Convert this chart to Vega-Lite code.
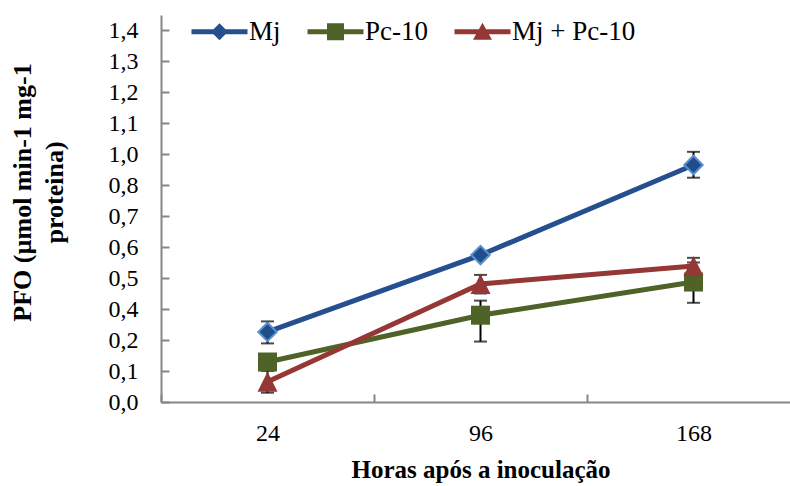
{
  "$schema": "https://vega.github.io/schema/vega-lite/v6.json",
  "width": 629,
  "height": 387,
  "autosize": {"type": "none"},
  "padding": {"left": 161, "top": 15, "right": 0, "bottom": 84},
  "background": "white",
  "config": {"view": {"stroke": null}, "font": "'Liberation Serif', 'DejaVu Serif', serif"},
  "data": {
    "values": [
      {"series": "Mj", "hour": "24", "v": 0.252, "lo": 0.189, "hi": 0.32},
      {"series": "Mj", "hour": "96", "v": 0.574, "lo": 0.565, "hi": 0.585},
      {"series": "Mj", "hour": "168", "v": 0.929, "lo": 0.847, "hi": 1.007},
      {"series": "Pc-10", "hour": "24", "v": 0.129, "lo": 0.115, "hi": 0.145},
      {"series": "Pc-10", "hour": "96", "v": 0.36, "lo": 0.195, "hi": 0.427},
      {"series": "Pc-10", "hour": "168", "v": 0.487, "lo": 0.42, "hi": 0.55},
      {"series": "Mj + Pc-10", "hour": "24", "v": 0.065, "lo": 0.03, "hi": 0.1},
      {"series": "Mj + Pc-10", "hour": "96", "v": 0.481, "lo": 0.45, "hi": 0.51},
      {"series": "Mj + Pc-10", "hour": "168", "v": 0.539, "lo": 0.515, "hi": 0.565}
    ]
  },
  "encoding": {
    "x": {
      "field": "hour",
      "type": "ordinal",
      "sort": ["24", "96", "168"],
      "scale": {"type": "band", "paddingInner": 0, "paddingOuter": 0, "range": [0, 639]},
      "axis": {
        "labelAngle": 0,
        "tickBand": "extent",
        "tickSize": -8,
        "tickWidth": 2,
        "tickColor": "#868686",
        "domainColor": "#868686",
        "domainWidth": 2,
        "labelFont": "'Liberation Serif', 'DejaVu Serif', serif",
        "labelFontSize": 24,
        "labelColor": "black",
        "labelPadding": 27,
        "grid": false,
        "title": "Horas após a inoculação",
        "titleFont": "'Liberation Serif', 'DejaVu Serif', serif",
        "titleFontSize": 25,
        "titleFontWeight": "bold",
        "titleColor": "black",
        "titlePadding": 12
      }
    },
    "y": {
      "field": "v",
      "type": "quantitative",
      "scale": {
        "domain": [0, 0.2, 0.4, 0.8, 1.0, 1.45],
        "range": [387, 325, 294, 170, 139, 0],
        "nice": false,
        "zero": false
      },
      "axis": {
        "values": [0, 0.1, 0.2, 0.4, 0.5, 0.6, 0.7, 0.8, 1.0, 1.1, 1.2, 1.3, 1.4],
        "labelExpr": "replace(format(datum.value, '.1f'), '.', ',')",
        "tickSize": -8,
        "tickWidth": 2,
        "tickColor": "#868686",
        "domainColor": "#868686",
        "domainWidth": 2,
        "labelFont": "'Liberation Serif', 'DejaVu Serif', serif",
        "labelFontSize": 24,
        "labelColor": "black",
        "labelPadding": 31,
        "grid": false,
        "title": ["PFO (µmol min-1 mg-1", "proteina)"],
        "titleFont": "'Liberation Serif', 'DejaVu Serif', serif",
        "titleFontSize": 26,
        "titleFontWeight": "bold",
        "titleColor": "black",
        "titleLineHeight": 32,
        "titleX": -139,
        "titleY": 177,
        "titleBaseline": "middle"
      }
    }
  },
  "layer": [
    {
      "mark": {"type": "line", "strokeWidth": 5},
      "encoding": {
        "color": {
          "field": "series",
          "type": "nominal",
          "scale": {"domain": ["Mj", "Pc-10", "Mj + Pc-10"], "range": ["#254F8E", "#4F6228", "#953735"]},
          "legend": {
            "orient": "none",
            "legendX": 45,
            "legendY": 3,
            "direction": "horizontal",
            "title": null,
            "padding": 0,
            "labelFontSize": 27,
            "labelColor": "black",
            "labelFont": "'Liberation Serif', 'DejaVu Serif', serif",
            "symbolSize": 400,
            "symbolStrokeWidth": 0,
            "symbolType": "M-2.8,-0.25H2.8V0.25H-2.8Z",
            "labelOffset": 16,
            "columnPadding": 26,
            "encode": {
              "symbols": {
                "update": {
                  "shape": {"signal": "datum.value === 'Mj' ? 'M-2.8,-0.25H2.8V0.25H-2.8Z M0,-0.85L0.85,0L0,0.85L-0.85,0Z' : datum.value === 'Pc-10' ? 'M-2.8,-0.25H2.8V0.25H-2.8Z M-0.85,-0.85H0.85V0.85H-0.85Z' : 'M-2.8,-0.25H2.8V0.25H-2.8Z M0,-0.9L0.95,0.8H-0.95Z'"},
                  "fill": {"scale": "color", "field": "value"},
                  "strokeWidth": {"value": 0}
                }
              }
            }
          }
        }
      }
    },
    {
      "mark": {"type": "rule", "color": "black", "strokeWidth": 2},
      "encoding": {"y": {"field": "lo", "type": "quantitative"}, "y2": {"field": "hi"}}
    },
    {
      "mark": {"type": "tick", "color": "black", "thickness": 2, "size": 13},
      "encoding": {"y": {"field": "lo", "type": "quantitative"}}
    },
    {
      "mark": {"type": "tick", "color": "black", "thickness": 2, "size": 13},
      "encoding": {"y": {"field": "hi", "type": "quantitative"}}
    },
    {
      "transform": [{"filter": "datum.series === 'Mj'"}],
      "mark": {"type": "point", "shape": "diamond", "filled": true, "opacity": 1, "size": 340, "fill": "#1F4E8A", "stroke": "#5B8FD0", "strokeWidth": 2}
    },
    {
      "transform": [{"filter": "datum.series === 'Pc-10'"}],
      "mark": {"type": "point", "shape": "square", "filled": true, "opacity": 1, "size": 361, "fill": "#4F6228", "strokeWidth": 0}
    },
    {
      "transform": [{"filter": "datum.series === 'Mj + Pc-10'"}],
      "mark": {"type": "point", "shape": "M0,-1L1,1L-1,1Z", "filled": true, "opacity": 1, "size": 400, "fill": "#953735", "strokeWidth": 0}
    }
  ]
}
